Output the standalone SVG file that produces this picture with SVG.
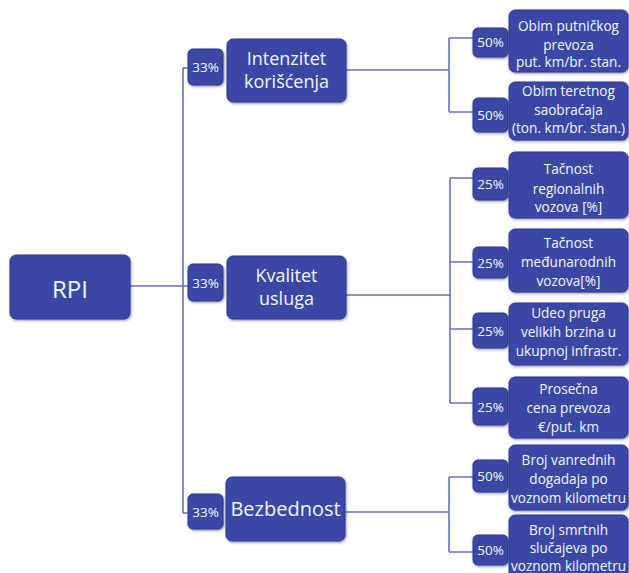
<svg xmlns="http://www.w3.org/2000/svg" width="629" height="573" viewBox="0 0 629 573">
<defs>
<filter id="sh" x="-10%" y="-10%" width="125%" height="130%">
<feDropShadow dx="0.8" dy="1.2" stdDeviation="0.8" flood-color="#1c2260" flood-opacity="0.5"/>
</filter>
</defs>
<style>
.box{fill:#3b46a4;stroke:#313b96;stroke-width:1;filter:url(#sh)}
.ln{fill:none;stroke:#6a6fba;stroke-width:1.6}
text{font-family:"Open Sans","Noto Sans",sans-serif;fill:#f5f5fc;text-anchor:middle;font-weight:500}
.rpi{font-size:24px}
.main{font-size:18px}
.big{font-size:20px}
.pct{font-size:13.5px}
.leaf{font-size:13.6px}
</style>
<rect width="629" height="573" fill="#ffffff"/>
<g id="connectors">
<path class="ln" d="M130 286 H188 M183 68 V513 M183 68 H188 M183 513 H188"/>
<path class="ln" d="M346 70 H449 M449 38 V112 M449 38 H473 M449 112 H473"/>
<path class="ln" d="M346 295 H450 M450 178 V403 M450 178 H473 M450 262 H473 M450 329 H473 M450 403 H473"/>
<path class="ln" d="M345 512 H449 M449 477 V552 M449 477 H473 M449 552 H473"/>
</g>
<g id="rpi">
<rect class="box" x="10" y="255" width="120" height="64" rx="6"/>
<text class="rpi" x="70" y="298">RPI</text>
</g>
<g id="p-intenzitet">
<rect class="box" x="188" y="49" width="35" height="36" rx="5"/>
<text class="pct" x="205.5" y="72">33%</text>
</g>
<g id="intenzitet">
<rect class="box" x="227" y="39" width="119" height="63" rx="6"/>
<text class="main" x="286.5" y="65">Intenzitet</text>
<text class="main" x="286.5" y="88">korišćenja</text>
</g>
<g id="p-kvalitet">
<rect class="box" x="188" y="264" width="35" height="37" rx="5"/>
<text class="pct" x="205.5" y="287.5">33%</text>
</g>
<g id="kvalitet">
<rect class="box" x="227" y="256" width="119" height="63" rx="6"/>
<text class="main" x="286.5" y="282">Kvalitet</text>
<text class="main" x="286.5" y="305">usluga</text>
</g>
<g id="p-bezbednost">
<rect class="box" x="188" y="494" width="35" height="35" rx="5"/>
<text class="pct" x="205.5" y="516.5">33%</text>
</g>
<g id="bezbednost">
<rect class="box" x="226" y="477" width="119" height="64" rx="6"/>
<text class="big" x="285.5" y="516">Bezbednost</text>
</g>
<g id="p-putnicki">
<rect class="box" x="473" y="28" width="35" height="29" rx="5"/>
<text class="pct" x="490.5" y="47">50%</text>
</g>
<g id="putnicki">
<rect class="box" x="509" y="10" width="119" height="62" rx="6"/>
<text class="leaf" x="568.5" y="31">Obim putničkog</text>
<text class="leaf" x="568.5" y="49.5">prevoza</text>
<text class="leaf" x="568.5" y="67">put. km/br. stan.</text>
</g>
<g id="p-teretni">
<rect class="box" x="473" y="98" width="35" height="34" rx="5"/>
<text class="pct" x="490.5" y="120">50%</text>
</g>
<g id="teretni">
<rect class="box" x="509" y="82" width="119" height="58" rx="6"/>
<text class="leaf" x="568.5" y="96">Obim teretnog</text>
<text class="leaf" x="568.5" y="114.5">saobraćaja</text>
<text class="leaf" x="568.5" y="133">(ton. km/br. stan.)</text>
</g>
<g id="p-regionalni">
<rect class="box" x="473" y="168" width="35" height="32" rx="5"/>
<text class="pct" x="490.5" y="189">25%</text>
</g>
<g id="regionalni">
<rect class="box" x="509" y="152" width="119" height="66" rx="6"/>
<text class="leaf" x="568.5" y="174">Tačnost</text>
<text class="leaf" x="568.5" y="193.5">regionalnih</text>
<text class="leaf" x="568.5" y="212">vozova [%]</text>
</g>
<g id="p-medjunarodni">
<rect class="box" x="473" y="247" width="35" height="31" rx="5"/>
<text class="pct" x="490.5" y="267.5">25%</text>
</g>
<g id="medjunarodni">
<rect class="box" x="509" y="229" width="119" height="63" rx="6"/>
<text class="leaf" x="568.5" y="248">Tačnost</text>
<text class="leaf" x="568.5" y="267">međunarodnih</text>
<text class="leaf" x="568.5" y="285.5">vozova[%]</text>
</g>
<g id="p-pruge">
<rect class="box" x="473" y="313" width="35" height="35" rx="5"/>
<text class="pct" x="490.5" y="335.5">25%</text>
</g>
<g id="pruge">
<rect class="box" x="509" y="303" width="119" height="62" rx="6"/>
<text class="leaf" x="568.5" y="318">Udeo pruga</text>
<text class="leaf" x="568.5" y="337">velikih brzina u</text>
<text class="leaf" x="568.5" y="355.5">ukupnoj infrastr.</text>
</g>
<g id="p-cena">
<rect class="box" x="473" y="388" width="35" height="37" rx="5"/>
<text class="pct" x="490.5" y="411.5">25%</text>
</g>
<g id="cena">
<rect class="box" x="509" y="377" width="119" height="61" rx="6"/>
<text class="leaf" x="568.5" y="394">Prosečna</text>
<text class="leaf" x="568.5" y="413">cena prevoza</text>
<text class="leaf" x="568.5" y="431.5">€/put. km</text>
</g>
<g id="p-vanredni">
<rect class="box" x="473" y="460" width="35" height="32" rx="5"/>
<text class="pct" x="490.5" y="481">50%</text>
</g>
<g id="vanredni">
<rect class="box" x="509" y="445" width="119" height="65" rx="6"/>
<text class="leaf" x="568.5" y="465">Broj vanrednih</text>
<text class="leaf" x="568.5" y="484">dogadaja po</text>
<text class="leaf" x="568.5" y="503">voznom kilometru</text>
</g>
<g id="p-smrtni">
<rect class="box" x="473" y="535" width="35" height="30" rx="5"/>
<text class="pct" x="490.5" y="555">50%</text>
</g>
<g id="smrtni">
<rect class="box" x="509" y="515" width="119" height="66" rx="6"/>
<text class="leaf" x="568.5" y="534.5">Broj smrtnih</text>
<text class="leaf" x="568.5" y="552.5">slučajeva po</text>
<text class="leaf" x="568.5" y="570.5">voznom kilometru</text>
</g>
</svg>
